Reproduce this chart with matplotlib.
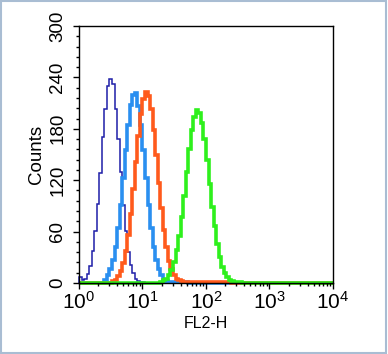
import numpy as np
import matplotlib.pyplot as plt
from matplotlib.patches import Rectangle
from matplotlib.ticker import LogLocator, MultipleLocator

plt.rcParams['font.family'] = ['Liberation Sans', 'DejaVu Sans']
plt.rcParams['mathtext.default'] = 'regular'

# histogram channels: 100 log bins from 10^0 to 10^4
n_bins = 100
edges = np.logspace(0, 4, n_bins + 1)

# counts per channel (start = first channel index)
navy_start = 0
navy_counts = [7, 3, 5, 11, 20, 37, 61, 92, 128, 170, 203, 230, 238, 232, 203,
               168, 130, 91, 61, 36, 21, 12, 5, 2, 1, 1]

blue_start = 10
blue_counts = [4, 9, 16, 27, 42, 64, 91, 122, 155, 185, 208, 220, 222, 207, 185,
               155, 122, 91, 64, 42, 27, 16, 9, 4, 2, 1, 1, 1, 1, 1, 1, 1, 1]

orange_start = 13
orange_counts = [2, 4, 8, 14, 23, 37, 56, 81, 110, 141, 171, 197, 215, 223, 218,
                 203, 178, 149, 117, 88, 62, 42, 26, 16, 9, 5, 3, 2, 1, 1, 1, 1,
                 1, 1, 1, 1, 1, 1, 1, 1, 1, 1, 1, 1, 1, 1, 1]

green_start = 32
green_counts = [1, 3, 5, 9, 15, 24, 38, 55, 77, 102, 129, 156, 178, 194, 202,
                199, 187, 168, 143, 116, 89, 66, 46, 30, 19, 12, 7, 4, 2, 1, 1, 1]

series = [
    (navy_start, navy_counts, '#1e1ea8', 1.1),
    (blue_start, blue_counts, '#2a8ff0', 2.6),
    (orange_start, orange_counts, '#ff5a1c', 2.6),
    (green_start, green_counts, '#2ef01c', 2.6),
]

fig = plt.figure(figsize=(3.88, 3.54), dpi=100)
ax = fig.add_axes([0.2036, 0.2006, 0.6546, 0.726])

for start, counts, color, lw in series:
    full = np.zeros(n_bins)
    full[start:start + len(counts)] = counts
    ax.stairs(full, edges, color=color, linewidth=lw, clip_on=False)

ax.set_xscale('log')
ax.set_xlim(1, 1e4)
ax.set_ylim(0, 300)
ax.yaxis.set_major_locator(MultipleLocator(60))
ax.yaxis.set_minor_locator(MultipleLocator(12))
ax.xaxis.set_major_locator(LogLocator(base=10, numticks=10))
ax.xaxis.set_minor_locator(LogLocator(base=10, subs=np.arange(2, 10), numticks=10))

ax.tick_params(which='both', direction='out', top=False, right=False, width=1)
ax.tick_params(which='major', length=4)
ax.tick_params(which='minor', length=2.2)
ax.tick_params(axis='y', labelrotation=90, pad=5, labelsize=13.5)
ax.tick_params(axis='x', pad=2, labelsize=15)
for lab in ax.get_yticklabels():
    lab.set_va('center')

ax.set_ylabel('Counts', fontsize=13.5, labelpad=3)
ax.set_xlabel('FL2-H', fontsize=11.5, labelpad=2)
for sp in ax.spines.values():
    sp.set_linewidth(1)

# light frame around the whole picture
fig.patches.append(Rectangle((0.002, 0.003), 0.994, 0.993, transform=fig.transFigure,
                             fill=False, edgecolor='#a9bdd3', linewidth=1.5))

fig.savefig('out.png', dpi=100)
